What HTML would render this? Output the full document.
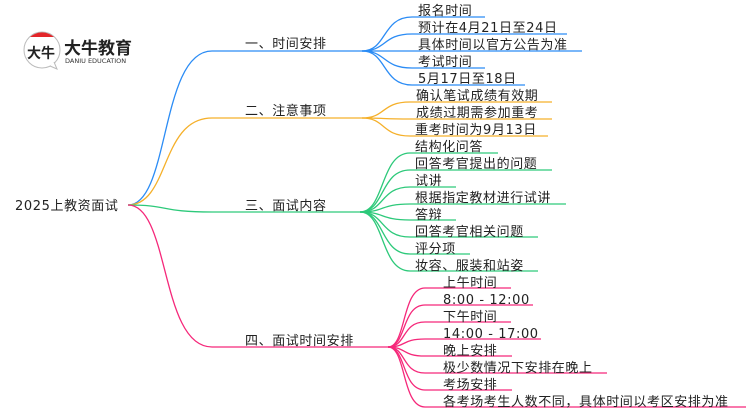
<!DOCTYPE html>
<html><head><meta charset="utf-8"><style>
html,body{margin:0;padding:0;background:#fff;}
svg{display:block;}
text{font-family:"DejaVu Sans","Noto Sans CJK SC",sans-serif;font-size:13px;letter-spacing:0.6px;fill:#222;}
</style></head><body>
<svg id="s" width="750" height="410" viewBox="0 0 750 410" xmlns="http://www.w3.org/2000/svg">
<g id="lines" fill="none" stroke-width="1.3"></g>
<g>
<circle cx="42" cy="50" r="18" fill="#fff" stroke="#bbb" stroke-width="1"/>
<path d="M30 37 A18 18 0 0 1 54 37 Z" fill="#e3262a"/>
<path d="M50 66 L57 69 L54 62" fill="#fff" stroke="#bbb" stroke-width="1"/>
<text x="27" y="58" style="font-size:14px;font-weight:bold;fill:#222;letter-spacing:0">大牛</text>
<text x="64" y="54" style="font-size:17px;font-weight:bold;fill:#222;letter-spacing:0">大牛教育</text>
<text x="65" y="63" style="font-size:6.5px;fill:#333;letter-spacing:0">DANIU EDUCATION</text>
</g>
<text x="15" y="210">2025上教资面试</text>
<text x="245" y="48">一、时间安排</text>
<text x="245" y="115">二、注意事项</text>
<text x="245" y="210">三、面试内容</text>
<text x="245" y="345">四、面试时间安排</text>

<text x="418" y="15">报名时间</text>
<text x="418" y="32">预计在4月21日至24日</text>
<text x="418" y="49">具体时间以官方公告为准</text>
<text x="418" y="66">考试时间</text>
<text x="418" y="83">5月17日至18日</text>

<text x="416" y="100">确认笔试成绩有效期</text>
<text x="416" y="117">成绩过期需参加重考</text>
<text x="415" y="134">重考时间为9月13日</text>

<text x="415" y="151">结构化问答</text>
<text x="415" y="168">回答考官提出的问题</text>
<text x="415" y="185">试讲</text>
<text x="415" y="202">根据指定教材进行试讲</text>
<text x="415" y="219">答辩</text>
<text x="415" y="236">回答考官相关问题</text>
<text x="415" y="253">评分项</text>
<text x="415" y="270">妆容、服装和站姿</text>

<text x="443" y="287">上午时间</text>
<text x="443" y="304">8:00 - 12:00</text>
<text x="443" y="321">下午时间</text>
<text x="443" y="338">14:00 - 17:00</text>
<text x="443" y="355">晚上安排</text>
<text x="443" y="372">极少数情况下安排在晚上</text>
<text x="443" y="389">考场安排</text>
<text x="443" y="406">各考场考生人数不同，具体时间以考区安排为准</text>
</svg>
<script>
var g=document.getElementById('lines');
function p(d,c){var e=document.createElementNS('http://www.w3.org/2000/svg','path');e.setAttribute('d',d);e.setAttribute('stroke',c);g.appendChild(e);}
var br=[
 {c:'#2b8cf5',y:51,hx:362,sx:412,L:[[17,485],[34,567],[51,582],[68,485],[85,525]]},
 {c:'#f5b02a',y:118,hx:362,sx:410,L:[[102,552],[119,552],[136,548]]},
 {c:'#2dc97a',y:212,hx:360,sx:410,L:[[153,498],[170,552],[187,456],[204,566],[220,456],[237,538],[254,470],[271,538]]},
 {c:'#f5287a',y:347,hx:388,sx:425,L:[[288,511],[305,533],[322,511],[339,541],[356,512],[373,607],[390,512],[407,746]]}
];
br.forEach(function(b){
 var mx=(128+212)/2;
 p('M128 205 C'+(mx)+' 205 '+(mx-10)+' '+b.y+' 212 '+b.y+' L'+b.hx+' '+b.y,b.c);
 b.L.forEach(function(l){
  var m=(b.hx+b.sx)/2;
  p('M'+b.hx+' '+b.y+' C'+m+' '+b.y+' '+(m-5)+' '+l[0]+' '+b.sx+' '+l[0]+' L'+l[1]+' '+l[0],b.c);
 });
});
</script>
</body></html>
